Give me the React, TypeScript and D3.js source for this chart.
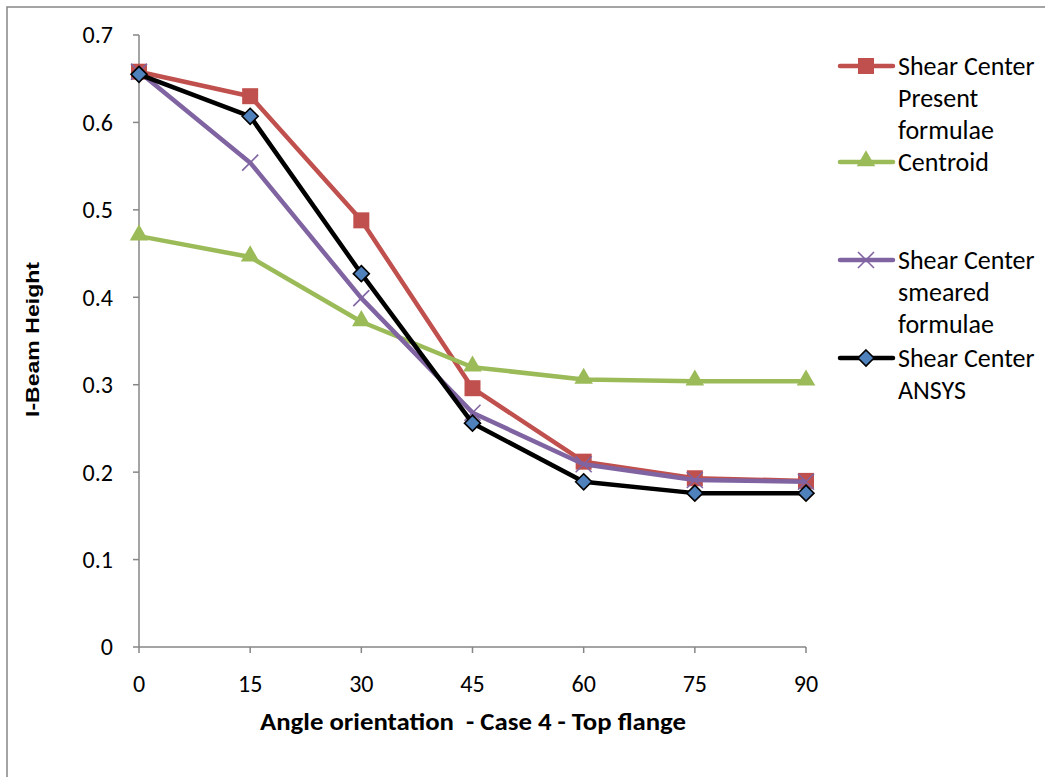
import React from "react";
import * as d3 from "d3";

const angles = [0, 15, 30, 45, 60, 75, 90];
const presentFormulae = [0.658, 0.630, 0.488, 0.296, 0.212, 0.193, 0.190];
const centroid = [0.470, 0.446, 0.372, 0.320, 0.306, 0.304, 0.304];
const smearedFormulae = [0.658, 0.554, 0.399, 0.268, 0.209, 0.191, 0.189];
const ansys = [0.655, 0.607, 0.427, 0.256, 0.189, 0.176, 0.176];
const yTicks = [0, 0.1, 0.2, 0.3, 0.4, 0.5, 0.6, 0.7];

const legendLabels = [
  ["Shear Center", "Present", "formulae"],
  ["Centroid"],
  ["Shear Center", "smeared", "formulae"],
  ["Shear Center", "ANSYS"],
];

const W = 1045;
const H = 777;
const left = 139, right = 806, top = 35, bottom = 647;
const font = "Carlito, Calibri, 'Open Sans', Lato, sans-serif";

export default function App() {
  const x = d3.scaleLinear().domain([0, 90]).range([left, right]);
  const y = d3.scaleLinear().domain([0, 0.7]).range([bottom, top]);
  const line = d3.line<number>().x((_, i) => x(angles[i])).y((d) => y(d));

  const series = [
    { data: presentFormulae, color: "#C0504D", marker: "square" },
    { data: centroid, color: "#9BBB59", marker: "triangle" },
    { data: smearedFormulae, color: "#8064A2", marker: "x" },
    { data: ansys, color: "#000000", marker: "diamond" },
  ];

  const marker = (type: string, cx: number, cy: number, color: string, key: string) => {
    if (type === "square") {
      return <rect key={key} x={cx - 8} y={cy - 8} width={16} height={16} fill={color} />;
    }
    if (type === "triangle") {
      const s = d3.symbol().type(d3.symbolTriangle).size(150)();
      return <path key={key} d={s || ""} transform={`translate(${cx},${cy - 1})`} fill={color} />;
    }
    if (type === "x") {
      return (
        <g key={key} stroke={color} strokeWidth={1.6}>
          <line x1={cx - 8} y1={cy - 8} x2={cx + 8} y2={cy + 8} />
          <line x1={cx - 8} y1={cy + 8} x2={cx + 8} y2={cy - 8} />
        </g>
      );
    }
    const r = 8;
    return (
      <path
        key={key}
        d={`M${cx},${cy - r}L${cx + r},${cy}L${cx},${cy + r}L${cx - r},${cy}Z`}
        fill="#4F81BD"
        stroke="#000"
        strokeWidth={1.6}
      />
    );
  };

  const legendRows = [66, 162, 260, 358];

  return (
    <svg width={W} height={H} style={{ position: "absolute", left: 0, top: 0 }}>
      <rect x={0} y={0} width={W} height={H} fill="#fff" />
      <rect x={7} y={7} width={W + 20} height={H + 20} fill="none" stroke="#868686" strokeWidth={1.5} />

      {/* axes */}
      <line x1={left} y1={top} x2={left} y2={bottom} stroke="#868686" strokeWidth={1.5} />
      <line x1={left} y1={bottom} x2={right} y2={bottom} stroke="#868686" strokeWidth={1.5} />
      {yTicks.map((t) => (
        <g key={"y" + t}>
          <line x1={left - 6} x2={left} y1={y(t)} y2={y(t)} stroke="#868686" strokeWidth={1.5} />
          <text x={113} y={y(t)} dy="0.35em" textAnchor="end" fontFamily={font} fontSize={24} fill="#000">
            {t === 0 ? "0" : t.toFixed(1)}
          </text>
        </g>
      ))}
      {angles.map((a) => (
        <g key={"x" + a}>
          <line x1={x(a)} x2={x(a)} y1={bottom} y2={bottom + 6} stroke="#868686" strokeWidth={1.5} />
          <text x={x(a)} y={684} dy="0.35em" textAnchor="middle" fontFamily={font} fontSize={24} fill="#000">
            {a}
          </text>
        </g>
      ))}

      <text
        x={260}
        y={722}
        dy="0.35em"
        fontFamily={font}
        fontWeight="bold"
        fontSize={24}
        fill="#000"
        textLength={426}
        lengthAdjust="spacingAndGlyphs"
        style={{ whiteSpace: "pre" }}
      >
        {"Angle orientation  - Case 4 - Top flange"}
      </text>
      <text
        transform={`translate(33,340) rotate(-90)`}
        dy="0.35em"
        x={-77}
        fontFamily="'Liberation Sans', Arial, sans-serif"
        fontWeight="bold"
        fontSize={18}
        fill="#000"
        textLength={155}
        lengthAdjust="spacingAndGlyphs"
      >
        I-Beam Height
      </text>

      {/* series */}
      {series.map((s, si) => (
        <g key={"s" + si}>
          <path d={line(s.data) || ""} fill="none" stroke={s.color} strokeWidth={4.5} strokeLinejoin="round" />
          {s.data.map((v, i) => marker(s.marker, x(angles[i]), y(v), s.color, `m${si}-${i}`))}
        </g>
      ))}

      {/* legend */}
      {series.map((s, si) => (
        <g key={"l" + si}>
          <line x1={840} x2={893} y1={legendRows[si]} y2={legendRows[si]} stroke={s.color} strokeWidth={4.5} strokeLinecap="round" />
          {marker(s.marker, 866, legendRows[si], s.color, "lm" + si)}
          {legendLabels[si].map((t, ti) => (
            <text key={ti} x={898} y={legendRows[si] + ti * 32} dy="0.35em" fontFamily={font} fontSize={26} fill="#000">
              {t}
            </text>
          ))}
        </g>
      ))}
    </svg>
  );
}
